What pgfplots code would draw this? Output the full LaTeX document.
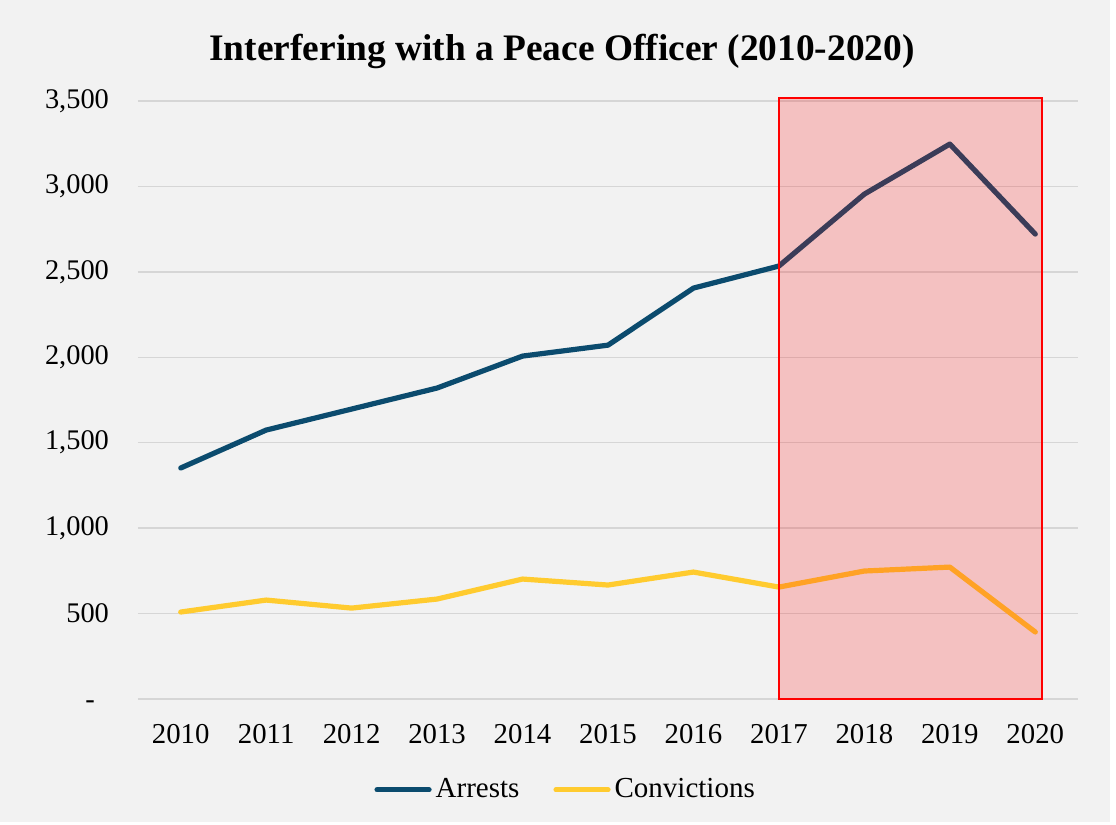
\documentclass[border=0pt]{standalone}
\usepackage{pgfplots}
\pgfplotsset{compat=1.18}
\usepackage{fontspec}
\setmainfont{Liberation Serif}
\definecolor{bgc}{HTML}{F2F2F2}
\definecolor{arr}{RGB}{11,75,110}
\definecolor{con}{RGB}{255,203,47}
\definecolor{grd}{HTML}{D6D6D6}
\begin{document}
\begin{tikzpicture}
\fill[white] (-69pt,-63pt) rectangle (489pt,349.5pt);
\fill[bgc] (-69pt,-61.5pt) rectangle (486pt,349.5pt);
\begin{axis}[
  scale only axis, width=470pt, height=299pt,
  at={(0,0)}, anchor=south west,
  xmin=2009.5, xmax=2020.5, ymin=0, ymax=3500,
  axis line style={draw=none}, major tick length=0pt,
  xtick={2010,2011,2012,2013,2014,2015,2016,2017,2018,2019,2020},
  xticklabels={2010,2011,2012,2013,2014,2015,2016,2017,2018,2019,2020},
  ytick={0,500,1000,1500,2000,2500,3000,3500},
  yticklabels={-\phantom{0},500,{1,000},{1,500},{2,000},{2,500},{3,000},{3,500}},
  xticklabel style={font=\fontsize{14.4}{16}\selectfont, yshift=-9pt},
  yticklabel style={font=\fontsize{14.2}{16}\selectfont, xshift=-11pt},
  ymajorgrids, grid style={grd, line width=0.75pt},
  clip=false,
  legend style={at={(0.456,-0.152)}, anchor=center, draw=none, fill=none,
    legend columns=2, font=\fontsize{14.5}{17}\selectfont,
    /tikz/every even column/.append style={column sep=15pt}},
  legend image code/.code={\draw[#1, line cap=round] (0pt,0pt) -- (26pt,0pt);},
]
\addplot[arr, line width=2.6pt, line join=round, line cap=round] coordinates {
(2010,1352) (2011,1574) (2012,1697) (2013,1820) (2014,2007) (2015,2071)
(2016,2405) (2017,2534) (2018,2955) (2019,3248) (2020,2721)};
\addlegendentry{Arrests}
\addplot[con, line width=2.6pt, line join=round, line cap=round] coordinates {
(2010,509) (2011,579) (2012,532) (2013,585) (2014,702) (2015,667)
(2016,743) (2017,655) (2018,749) (2019,772) (2020,392)};
\addlegendentry{Convictions}
\fill[red, fill opacity=0.2] (axis cs:2017,0) rectangle (axis cs:2020.08,3517);
\draw[red, line width=1pt] (axis cs:2017,0) rectangle (axis cs:2020.08,3517);
\end{axis}
\node[font=\bfseries\fontsize{18.7}{22}\selectfont] at (212pt,324pt) {Interfering with a Peace Officer (2010-2020)};
\end{tikzpicture}
\end{document}
